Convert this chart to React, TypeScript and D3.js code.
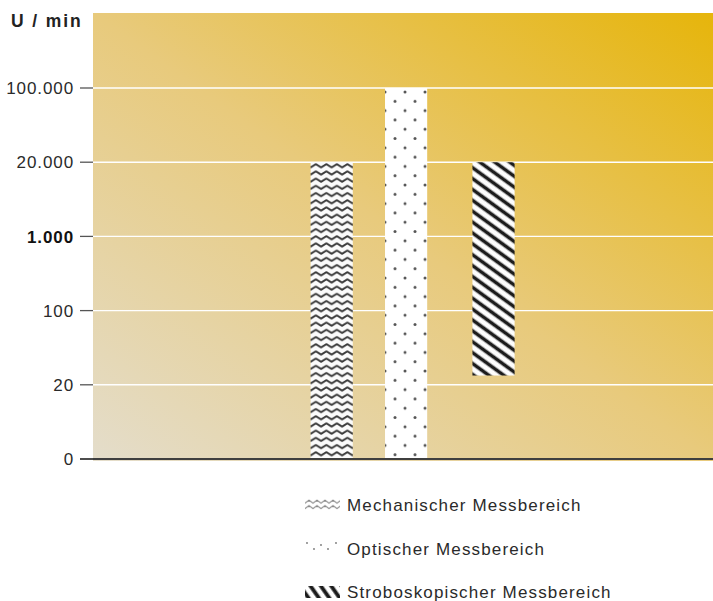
import React from "react";
import * as d3 from "d3";

// ---- data ----
const yTickValues = [0, 20, 100, 1000, 20000, 100000];
const yTickLabels = ["0", "20", "100", "1.000", "20.000", "100.000"];
const boldTicks = ["1.000"];
const seriesNames = [
  "Mechanischer Messbereich",
  "Optischer Messbereich",
  "Stroboskopischer Messbereich",
];
const lowValues = [0, 0, 30];
const highValues = [20000, 100000, 20000];
const slotCenters = [38.5, 50.5, 64.6]; // horizontal slot (0..100 of plot width)
const patternIds = ["zig", "dots", "stripes"];
const yTitle = "U / min";

const W = 713;
const H = 601;
const plot = { left: 93, right: 713, top: 13, bottom: 460 };

export default function App() {
  const x = d3.scaleLinear().domain([0, 100]).range([plot.left, plot.right]);
  const yIdx = d3
    .scaleLinear()
    .domain(yTickValues)
    .range(d3.range(yTickValues.length));
  const yPos = d3.scaleLinear().domain([0, yTickValues.length - 1]).range([459, 88]);
  const y = (v: number) => yPos(yIdx(v));
  const barW = x(6.8) - x(0);

  const font = "'Liberation Sans', Arial, Helvetica, sans-serif";
  const legendY = [505, 549, 592];

  return (
    <svg
      width={W}
      height={H}
      style={{ position: "absolute", left: 0, top: 0 }}
      fontFamily={font}
    >
      <defs>
        <linearGradient id="bg" x1="0" y1="1" x2="1" y2="0">
          <stop offset="0" stopColor="#e4ddcb" />
          <stop offset="0.5" stopColor="#e8ca7c" />
          <stop offset="1" stopColor="#e6b50b" />
        </linearGradient>
        <filter id="soft" x="-5%" y="-5%" width="110%" height="110%">
          <feGaussianBlur stdDeviation="0.5" />
        </filter>
        {slotCenters.map((c, i) => {
          const left = x(c) - barW / 2;
          const top = y(highValues[i]);
          if (patternIds[i] === "zig")
            return (
              <pattern key={i} id="zig" patternUnits="userSpaceOnUse" x={left} y={top} width={10.5} height={7.2}>
                <rect width={10.5} height={7.2} fill="#fbfbfb" />
                <path
                  d="M-5.25,2 L0,5.2 L5.25,2 L10.5,5.2 L15.75,2"
                  fill="none"
                  stroke="#3a3a3a"
                  strokeWidth={1.9}
                  strokeLinejoin="round"
                />
              </pattern>
            );
          if (patternIds[i] === "dots")
            return (
              <pattern key={i} id="dots" patternUnits="userSpaceOnUse" x={left} y={top + 4} width={20} height={18.6}>
                <rect width={20} height={18.6} fill="#ffffff" />
                <circle cx={0} cy={0} r={1.5} fill="#555" />
                <circle cx={20} cy={0} r={1.5} fill="#555" />
                <circle cx={0} cy={18.6} r={1.5} fill="#555" />
                <circle cx={20} cy={18.6} r={1.5} fill="#555" />
                <circle cx={10} cy={9.3} r={1.5} fill="#555" />
              </pattern>
            );
          return (
            <pattern
              key={i}
              id="stripes"
              patternUnits="userSpaceOnUse"
              x={left}
              y={top}
              width={20}
              height={8.8}
              patternTransform={`rotate(36 ${left} ${top})`}
            >
              <rect width={20} height={8.8} fill="#fdfdfd" />
              <rect y={2.6} width={20} height={3.6} fill="#1e1e1e" />
            </pattern>
          );
        })}
        <pattern id="legZig" patternUnits="userSpaceOnUse" x={305} y={499} width={8} height={5.5}>
          <rect width={8} height={5.5} fill="#ffffff" />
          <path d="M-4,1.2 L0,4.2 L4,1.2 L8,4.2 L12,1.2" fill="none" stroke="#8a8a8a" strokeWidth={1.1} />
        </pattern>
        <pattern
          id="legStripes"
          patternUnits="userSpaceOnUse"
          x={305}
          y={587}
          width={20}
          height={8.5}
          patternTransform="rotate(55 305 587)"
        >
          <rect width={20} height={8.5} fill="#ffffff" />
          <rect y={1.5} width={20} height={3.8} fill="#1a1a1a" />
        </pattern>
      </defs>

      {/* background */}
      <rect
        x={plot.left}
        y={plot.top}
        width={plot.right - plot.left}
        height={plot.bottom - plot.top + 1}
        fill="url(#bg)"
      />

      {/* gridlines */}
      {yTickValues.slice(1).map((v) => (
        <line
          key={v}
          x1={plot.left}
          x2={plot.right}
          y1={y(v)}
          y2={y(v)}
          stroke="#ffffff"
          strokeWidth={1.4}
        />
      ))}

      {/* bars */}
      {slotCenters.map((c, i) => (
        <rect
          key={i}
          x={x(c) - barW / 2}
          y={y(highValues[i])}
          width={barW}
          height={y(lowValues[i]) - y(highValues[i])}
          fill={`url(#${patternIds[i]})`}
          filter={patternIds[i] === "dots" ? undefined : "url(#soft)"}
        />
      ))}

      {/* axis baseline */}
      <line x1={80} x2={plot.right} y1={y(0)} y2={y(0)} stroke="#3f3f3f" strokeWidth={1.8} />

      {/* ticks & labels */}
      {yTickValues.map((v, i) => (
        <g key={v}>
          <line x1={80} x2={plot.left} y1={y(v)} y2={y(v)} stroke="#555" strokeWidth={1.3} />
          <text
            x={74}
            y={y(v)}
            dy="0.36em"
            textAnchor="end"
            fontSize={17}
            letterSpacing={0.9}
            fill={boldTicks.includes(yTickLabels[i]) ? "#111" : "#2a2a2a"}
            fontWeight={boldTicks.includes(yTickLabels[i]) ? "bold" : "normal"}
          >
            {yTickLabels[i]}
          </text>
        </g>
      ))}

      {/* y title */}
      <text x={11} y={27} fontSize={17.5} fontWeight="bold" fill="#222" letterSpacing={1.9} style={{ whiteSpace: "pre" }}>
        {yTitle}
      </text>

      {/* legend */}
      {seriesNames.map((name, i) => (
        <g key={name}>
          {i === 0 && <rect x={305} y={499} width={35} height={11} fill="url(#legZig)" />}
          {i === 1 &&
            [
              [307, 543],
              [314, 549],
              [321, 545],
              [328, 549],
              [336, 543],
            ].map(([cx, cy], k) => <circle key={k} cx={cx} cy={cy} r={0.9} fill="#777" />)}
          {i === 2 && <rect x={305} y={586} width={35} height={12} fill="url(#legStripes)" filter="url(#soft)" />}
          <text x={347} y={legendY[i]} dy="0.36em" fontSize={17} letterSpacing={1.15} fill="#2a2a2a">
            {name}
          </text>
        </g>
      ))}
    </svg>
  );
}
